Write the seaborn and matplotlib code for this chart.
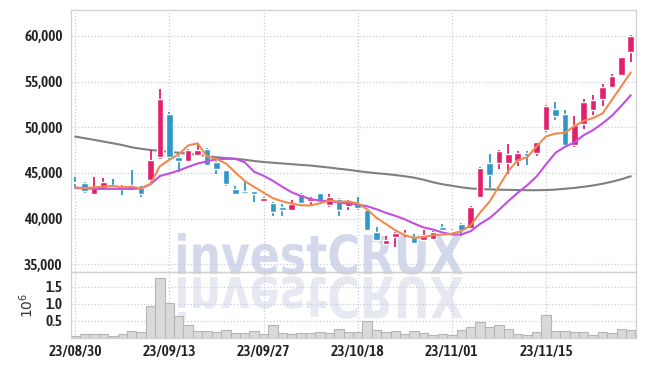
import numpy as np
import matplotlib
matplotlib.use('Agg')
import matplotlib.pyplot as plt
import seaborn as sns
from matplotlib import font_manager
from matplotlib.textpath import TextPath
from matplotlib.patches import PathPatch
from matplotlib.font_manager import FontProperties
from matplotlib.transforms import Affine2D

# daily candles, 23/08/30 .. 23/11/28 (60 trading days)
opens = [43950, 43850, 42650, 43300, 43650, 43550, 43700, 43300, 44200, 46750,
         51450, 46750, 46300, 47000, 47650, 46200, 45300, 43200, 43000, 43000,
         41900, 41750, 41250, 40900, 42650, 41900, 42750, 41450, 42100, 41400,
         41750, 40950, 38500, 37200, 38000, 38300, 38000, 37650, 37750, 39100,
         39000, 39450, 39000, 42400, 46100, 46100, 46100, 46300, 47150, 47200,
         49650, 51950, 51450, 48100, 50300, 51850, 53050, 54400, 55750, 58200]
closes = [43900, 43050, 43500, 43950, 43450, 43200, 43300, 42650, 46450, 53100,
          46700, 46250, 47550, 47550, 45900, 45400, 43750, 42700, 42800, 42650,
          42300, 40700, 40950, 41550, 41750, 42200, 41950, 42350, 40950, 41900,
          41100, 38750, 37650, 37600, 38450, 38400, 37300, 38150, 38550, 38750,
          38950, 38700, 41300, 45550, 44750, 47350, 47100, 47200, 46800, 48350,
          52300, 51200, 48000, 50200, 52800, 52950, 54400, 55600, 57650, 60000]
highs = [44500, 44000, 44600, 44450, 44350, 43700, 45300, 43600, 47500, 54200,
         51700, 46800, 47600, 48300, 47700, 46300, 45350, 43600, 44100, 43050,
         42400, 41850, 41600, 42000, 42800, 42400, 42800, 42700, 42200, 42000,
         42400, 41000, 39050, 38100, 38500, 38700, 38300, 38700, 38600, 39450,
         39100, 39500, 41350, 45600, 47100, 47500, 48200, 47400, 47400, 48400,
         52400, 52750, 51900, 51250, 53100, 53550, 54750, 55850, 57700, 60050]
lows = [43400, 42750, 42600, 43200, 43350, 42550, 43100, 42400, 44000, 46500,
        46400, 45100, 46200, 46900, 45700, 44900, 43600, 42600, 42750, 41850,
        41850, 40300, 40300, 40850, 41700, 41400, 41850, 41300, 40300, 40900,
        40900, 38700, 37500, 37100, 36900, 38000, 37200, 37600, 37700, 38600,
        38700, 38100, 38950, 42200, 43300, 45400, 44900, 45800, 45900, 46900,
        49500, 50750, 47800, 47800, 49850, 51300, 52300, 54300, 55700, 57100]

# moving averages
ma5 = [43400, 43350, 43400, 43500, 43570, 43430, 43480, 43310, 43810, 45740,
       46440, 47030, 48010, 48230, 46790, 46530, 46030, 45060, 44110, 43460,
       42840, 42230, 41880, 41630, 41450, 41430, 41680, 41960, 41840, 41870,
       41650, 41010, 40070, 39400, 38710, 38170, 37880, 37980, 38170, 38230,
       38340, 38620, 39250, 40650, 41850, 43530, 45210, 46390, 46700, 47900,
       49000, 49300, 49400, 50100, 50700, 51000, 51500, 53000, 54500, 56000]
ma10 = [43350, 43300, 43250, 43250, 43250, 43250, 43250, 43300, 43750, 44655,
        44935, 45255, 45660, 46020, 46265, 46485, 46530, 46535, 46170, 45125,
        44685, 44130, 43470, 42870, 42455, 42135, 41955, 41920, 41735, 41660,
        41540, 41345, 41015, 40620, 40290, 39910, 39445, 39025, 38785, 38470,
        38255, 38250, 38615, 39410, 40040, 40935, 41915, 42820, 43645, 44605,
        45940, 47190, 47860, 48325, 49130, 49690, 50420, 51260, 52345, 53510]
ma_long = [48980, 48790, 48620, 48430, 48240, 48050, 47800, 47640, 47500, 47420,
           47300, 47200, 47090, 46980, 46840, 46710, 46620, 46550, 46440, 46300,
           46190, 46110, 46030, 45950, 45870, 45800, 45690, 45580, 45450, 45340,
           45200, 45070, 44960, 44870, 44760, 44630, 44470, 44250, 43970, 43750,
           43590, 43420, 43290, 43230, 43190, 43160, 43140, 43120, 43100, 43100,
           43120, 43170, 43260, 43350, 43480, 43620, 43810, 44030, 44300, 44630]

# volume, millions of shares
volumes = [0.07, 0.11, 0.13, 0.11, 0.05, 0.11, 0.20, 0.17, 0.94, 1.76,
           1.01, 0.63, 0.38, 0.20, 0.20, 0.17, 0.23, 0.14, 0.14, 0.20,
           0.11, 0.38, 0.14, 0.11, 0.14, 0.14, 0.17, 0.14, 0.26, 0.17,
           0.17, 0.51, 0.23, 0.17, 0.20, 0.11, 0.20, 0.14, 0.08, 0.11,
           0.08, 0.23, 0.32, 0.46, 0.32, 0.38, 0.26, 0.11, 0.08, 0.17,
           0.66, 0.20, 0.20, 0.17, 0.17, 0.08, 0.17, 0.14, 0.26, 0.23]

tick_pos = [0, 10, 20, 30, 40, 50]
tick_labels = ['23/08/30', '23/09/13', '23/09/27', '23/10/18', '23/11/01', '23/11/15']
price_ticks = [35000, 40000, 45000, 50000, 55000, 60000]
vol_ticks = [0.5, 1.0, 1.5]

sns.set_theme(style='white')
plt.rcParams['font.family'] = ['DejaVu Sans']


def narrow_font():
    # look for any condensed / narrow face installed, bold preferred
    best = None
    for f in font_manager.fontManager.ttflist:
        name = (f.name + ' ' + str(f.fname)).lower()
        narrow = ('narrow' in name or 'condensed' in name or 'cond' in str(f.stretch))
        if not narrow:
            continue
        w = f.weight if isinstance(f.weight, int) else 400
        score = -abs(w - 600)
        if best is None or score > best[0]:
            best = (score, f.fname)
    if best:
        return FontProperties(fname=best[1], size=11)
    return FontProperties(family='Roboto', weight='medium', size=10)


tick_font = narrow_font()

UP, DOWN = '#e2206b', '#3097c9'
GRID = '#c8cce0'
SPINE = '#d0d0d0'

idx = np.arange(len(closes))
o, c = np.array(opens), np.array(closes)
cols = [UP if cc >= oo else DOWN for oo, cc in zip(o, c)]

fig = plt.figure(figsize=(6.45, 3.66), dpi=100)
fig.patch.set_facecolor('white')
ax = fig.add_axes([0.110, 0.257, 0.876, 0.716])
axv = fig.add_axes([0.110, 0.0765, 0.876, 0.1805], sharex=ax)
for a in (ax, axv):
    a.set_facecolor('none')
    for s in a.spines.values():
        s.set_color(SPINE)
        s.set_linewidth(0.9)
    a.grid(True, ls=':', color=GRID, lw=0.9)
    a.set_axisbelow(True)
    a.tick_params(length=0, colors='#222222')
ax.spines['bottom'].set_color('#c4c4c4')

# watermark with reflection
tp = TextPath((0, 0), 'investCRUX', size=100,
              prop=FontProperties(family='DejaVu Sans', weight='bold'))
bb = tp.get_extents()
sx = 285 / bb.width
sy = 41 / bb.y1
wm = Affine2D().translate(-bb.x0, 0).scale(sx, sy).translate(178, 366 - 274)
wm_r = Affine2D().translate(-bb.x0, 0).scale(sx, -sy * 1.05).translate(178, 366 - 277)
fig.add_artist(PathPatch(tp, transform=wm, facecolor='#d3d8ea', edgecolor='none', zorder=-1))
fig.add_artist(PathPatch(tp, transform=wm_r, facecolor='#e7e9f2', edgecolor='none', zorder=-1))

# candles
ax.vlines(idx, lows, highs, colors=cols, lw=1.3, zorder=3)
ax.bar(idx, np.maximum(np.abs(c - o), 70), bottom=np.minimum(o, c),
       width=0.7, color=cols, zorder=4)

sns.lineplot(x=idx, y=ma_long, ax=ax, color='#7f7f7f', lw=1.5, zorder=2)
sns.lineplot(x=idx, y=ma10, ax=ax, color='#c24fe2', lw=1.5, zorder=5)
sns.lineplot(x=idx, y=ma5, ax=ax, color='#f08a4f', lw=1.5, zorder=6)

ax.set_xlim(-0.45, 59.55)
ax.set_ylim(34150, 62850)
ax.set_yticks(price_ticks)
ax.set_yticklabels([f'{v:,}' for v in price_ticks], fontproperties=tick_font)
ax.tick_params(axis='x', labelbottom=False)
ax.set_xlabel('')
ax.set_ylabel('')
ax.tick_params(axis='y', pad=6)

sns.barplot(x=idx, y=volumes, ax=axv, native_scale=True, width=1.0, color='#d9d9d9',
            saturation=1, edgecolor='#b5b5b5', linewidth=0.8, zorder=2)
axv.set_ylim(0, 1.93)
axv.set_yticks(vol_ticks)
axv.set_yticklabels([f'{v:.1f}' for v in vol_ticks], fontproperties=tick_font)
axv.set_xticks(tick_pos)
axv.set_xticklabels(tick_labels, fontproperties=tick_font)
axv.set_xlim(-0.45, 59.55)
axv.set_ylabel(r'$10^6$', fontsize=10, color='#333333')
axv.yaxis.set_label_coords(-0.062, 0.5)
axv.tick_params(axis='x', pad=5)
axv.tick_params(axis='y', pad=6)

fig.savefig('out.png', dpi=100)
